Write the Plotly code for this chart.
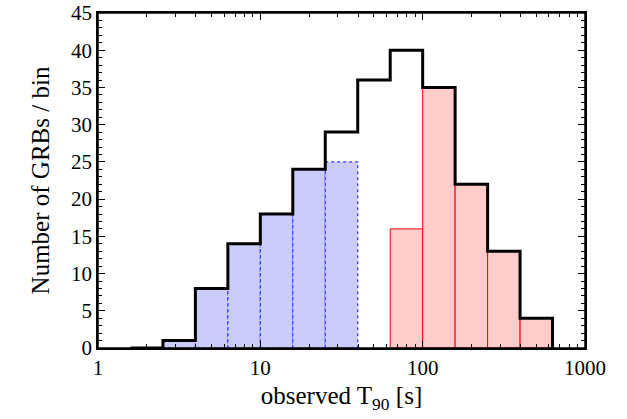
import plotly.graph_objects as go

# bin edges (log10 steps of 0.2) and counts
edges = [10**0.2, 10**0.4, 10**0.6, 10**0.8, 10**1.0, 10**1.2, 10**1.4,
         10**1.6, 10**1.8, 10**2.0, 10**2.2, 10**2.4, 10**2.6, 10**2.8]
total_counts = [0, 1, 8, 14, 18, 24, 29, 36, 40, 35, 22, 13, 4]
short_counts = [0, 1, 8, 14, 18, 24, 25, 0, 0, 0, 0, 0, 0]
long_counts = [0, 0, 0, 0, 0, 0, 0, 0, 16, 35, 22, 13, 4]

fig = go.Figure()

def add_bars(counts, fill, line_color, dash, width):
    for i, c in enumerate(counts):
        if c <= 0:
            continue
        x0, x1 = edges[i], edges[i + 1]
        fig.add_trace(go.Scatter(
            x=[x0, x0, x1, x1, x0], y=[0, c, c, 0, 0],
            mode="lines", fill="toself", fillcolor=fill,
            line=dict(color=line_color, width=width, dash=dash),
            hoverinfo="skip", showlegend=False))

add_bars(short_counts, "rgba(204,204,250,1)", "#3333ff", "dot", 1.2)
add_bars(long_counts, "rgba(255,204,204,1)", "#ff0000", "solid", 1)

# black step outline of the total
sx = [edges[0]]
sy = [0]
for i, c in enumerate(total_counts):
    sx += [edges[i], edges[i + 1]]
    sy += [c, c]
sx.append(edges[-1])
sy.append(0)
fig.add_trace(go.Scatter(x=sx, y=sy, mode="lines",
                         line=dict(color="black", width=3),
                         hoverinfo="skip", showlegend=False))

font = dict(family="Liberation Serif, DejaVu Serif, serif", size=21, color="black")
fig.update_layout(
    width=627, height=419,
    margin=dict(l=98, r=42, t=11, b=71),
    plot_bgcolor="white", paper_bgcolor="white",
    font=font,
    xaxis=dict(type="log", range=[0, 3], showgrid=False, zeroline=False,
               ticklabeloverflow="allow",
               tickvals=[1, 10, 100, 1000], ticktext=["1", "10", "100", "1000"],
               ticks="inside", ticklen=7, tickcolor="black",
               minor=dict(ticks="inside", ticklen=4, tickcolor="black",
                          tickvals=[2, 3, 4, 5, 6, 7, 8, 9, 20, 30, 40, 50, 60, 70, 80, 90,
                                    200, 300, 400, 500, 600, 700, 800, 900]),
               showline=True, linecolor="black", linewidth=1.5, mirror="ticks",
               title=dict(text="observed T<sub>90</sub> [s]", standoff=8)),
    yaxis=dict(range=[0, 45], showgrid=False, zeroline=False,
               automargin=False, ticklabeloverflow="allow",
               dtick=5, ticks="inside", ticklen=7, tickcolor="black",
               minor=dict(ticks="inside", ticklen=4, dtick=1, tickcolor="black"),
               showline=True, linecolor="black", linewidth=1.5, mirror="ticks",
               title=dict(text="Number of GRBs / bin", standoff=14)),
    shapes=[dict(type="rect", xref="paper", yref="paper", x0=0, x1=1, y0=0, y1=1,
                 line=dict(color="black", width=1.5), fillcolor="rgba(0,0,0,0)")],
)

fig.write_html("out.html", config={"displayModeBar": False},
               post_script="document.body.style.margin='0';document.body.style.padding='0';")
